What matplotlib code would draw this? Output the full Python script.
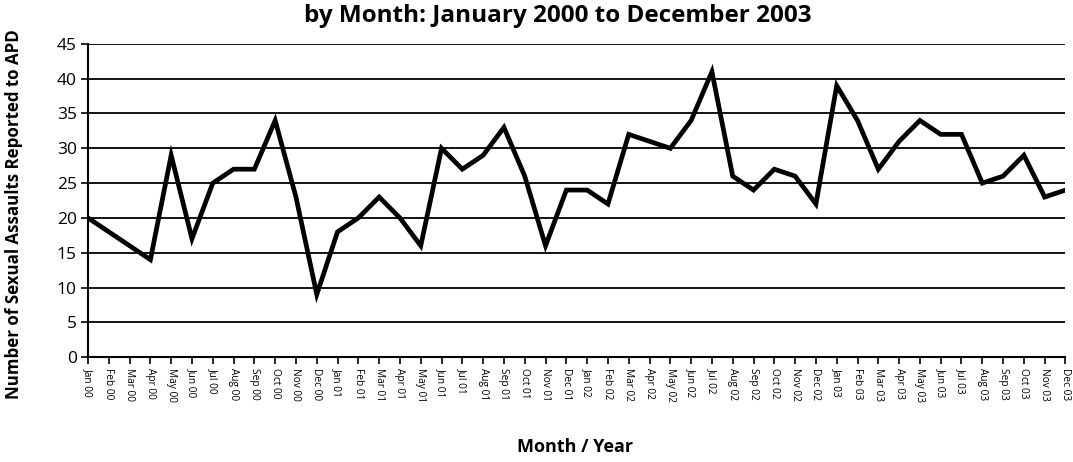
import matplotlib.pyplot as plt

# Monthly counts, Jan 2000 - Dec 2003
months = ['Jan', 'Feb', 'Mar', 'Apr', 'May', 'Jun',
          'Jul', 'Aug', 'Sep', 'Oct', 'Nov', 'Dec']
years = ['00', '01', '02', '03']
labels = [f'{m} {y}' for y in years for m in months]

counts_2000 = [20, 18, 16, 14, 29, 17, 25, 27, 27, 34, 23, 9]
counts_2001 = [18, 20, 23, 20, 16, 30, 27, 29, 33, 26, 16, 24]
counts_2002 = [24, 22, 32, 31, 30, 34, 41, 26, 24, 27, 26, 22]
counts_2003 = [39, 34, 27, 31, 34, 32, 32, 25, 26, 29, 23, 24]
counts = counts_2000 + counts_2001 + counts_2002 + counts_2003

plt.rcParams['font.family'] = ['Open Sans', 'DejaVu Sans']

fig = plt.figure(figsize=(10.73, 4.62), dpi=100)
ax = fig.add_axes([0.082, 0.227, 0.911, 0.678])

x = list(range(len(counts)))
ax.plot(x, counts, color='black', linewidth=3.4, solid_joinstyle='miter')

ax.set_xlim(0, len(counts) - 1)
ax.set_ylim(0, 45)
ax.set_yticks(range(0, 46, 5))
ax.set_xticks(x)
ax.set_xticklabels(labels, rotation=-90, fontsize=7.3)
ax.tick_params(axis='y', labelsize=12.5, length=5, width=1.2, pad=3)
ax.tick_params(axis='x', length=5, width=1.2, pad=3)

ax.yaxis.grid(True, color='black', linewidth=1.3)
ax.set_axisbelow(True)
for side in ['top', 'right']:
    ax.spines[side].set_visible(False)
for side in ['left', 'bottom']:
    ax.spines[side].set_linewidth(1.5)

fig.text(0.52, 0.966, 'by Month: January 2000 to December 2003',
         ha='center', va='center', fontsize=17.5, fontweight='bold')
ax.set_ylabel('Number of Sexual Assaults Reported to APD',
              fontsize=12.2, fontweight='bold')
ax.yaxis.set_label_coords(-0.066, 0.458)
fig.text(0.536, 0.032, 'Month / Year', ha='center', va='center',
         fontsize=13, fontweight='bold')

fig.savefig('out.png', dpi=100)
